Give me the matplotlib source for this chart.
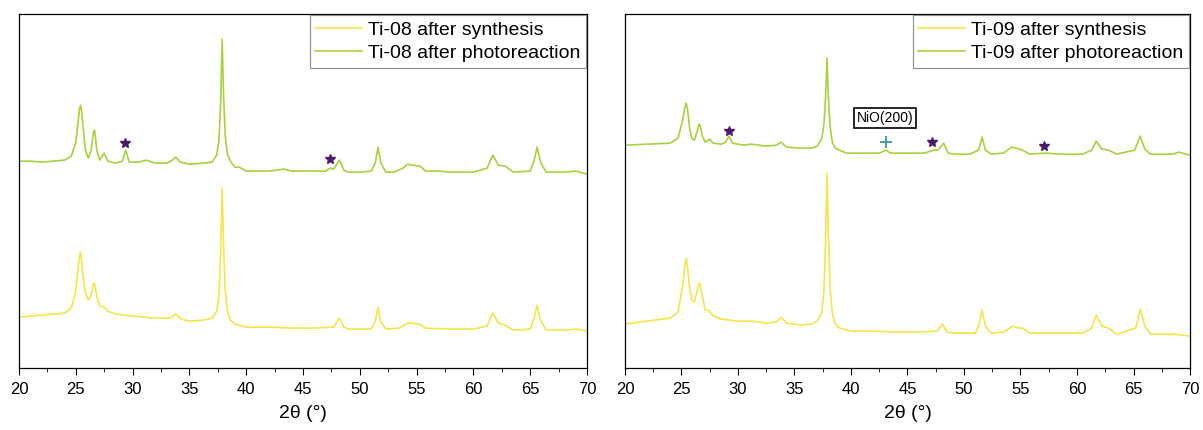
import numpy as np
import matplotlib
matplotlib.use("Agg")
import matplotlib.pyplot as plt
from matplotlib.ticker import MultipleLocator

plt.rcParams.update({
    "font.family": ["Liberation Sans", "DejaVu Sans"],
    "font.size": 11,
    "axes.linewidth": 0.9,
})

# ---- Ti-08 patterns (stacked, arbitrary units)
ti08_syn_x = [20, 22, 24, 24.6, 25.0, 25.2, 25.32, 25.42, 25.52, 25.65, 25.85, 26.1, 26.35,
              26.55, 26.65, 26.85, 27.1, 27.5, 27.8, 28.5, 30, 32, 33.3, 33.8, 34.3, 35,
              36.3, 37.0, 37.4, 37.6, 37.75, 37.88, 38.0, 38.15, 38.35, 38.6, 39, 40,
              42, 44, 46, 47.7, 48.2, 48.6, 49, 51, 51.35, 51.6, 51.85, 52.3, 53.5, 54.2,
              54.6, 55.2, 55.8, 58, 60, 61.2, 61.7, 62.2, 62.8, 63.5, 65, 65.35, 65.6,
              65.9, 66.4, 68, 69, 70]
ti08_syn_y = [51, 53, 55, 60, 78, 100, 112, 116, 106, 90, 75, 68, 73,
              84, 85, 72, 62, 61, 57, 54, 52, 50, 50, 54, 49, 47,
              48, 50, 57, 72, 115, 180, 125, 78, 57, 48, 44, 41,
              41, 40, 40, 41, 50, 41, 39, 39, 47, 61, 46, 39, 40, 45,
              45, 44, 40, 39, 39, 42, 55, 45, 43, 38, 39, 50, 63,
              48, 38, 38, 39, 37]

ti08_pho_x = [20, 21, 22, 23, 24, 24.6, 25.0, 25.2, 25.32, 25.42, 25.52, 25.65, 25.85,
              26.1, 26.35, 26.55, 26.65, 26.85, 27.1, 27.5, 27.8, 28.5, 29.1, 29.4, 29.7,
              30.5, 31.2, 32, 33, 33.5, 33.8, 34.2, 35, 36.2, 37.0, 37.4, 37.6, 37.75,
              37.88, 38.0, 38.15, 38.35, 38.6, 39.0, 39.4, 40, 41, 42, 43.3, 44, 45,
              46, 47, 47.4, 47.7, 48.2, 48.6, 49, 50, 51, 51.35, 51.6, 51.85, 52.3, 53,
              53.8, 54.2, 54.6, 55.3, 55.8, 57, 58, 60, 61.2, 61.7, 62.2, 62.8, 63.5,
              65, 65.35, 65.6, 65.9, 66.4, 68, 69, 70]
ti08_pho_y = [207, 207, 206, 207, 208, 212, 226, 246, 259, 263, 256, 240, 218,
              210, 218, 236, 238, 218, 208, 215, 207, 205, 207, 218, 206,
              206, 208, 205, 205, 208, 211, 206, 204, 205, 206, 213, 228, 265,
              329, 275, 232, 214, 207, 201, 201, 197, 197, 197, 199, 197, 197,
              197, 197, 200, 199, 208, 198, 196, 196, 197, 205, 221, 205, 196, 196,
              200, 204, 203, 202, 197, 197, 196, 196, 200, 213, 203, 202, 196,
              197, 208, 221, 206, 196, 196, 197, 194]

# ---- Ti-09 patterns
ti09_syn_x = [20, 22, 24, 24.7, 25.1, 25.3, 25.42, 25.55, 25.7, 25.9, 26.15, 26.4, 26.55,
              26.65, 26.85, 27.1, 27.4, 27.7, 28.5, 30, 31.2, 32.5, 33.4, 33.8, 34.3,
              35.5, 36.5, 37.0, 37.4, 37.6, 37.75, 37.88, 38.0, 38.15, 38.35, 38.6,
              39.0, 40, 42, 44, 46, 47.6, 48.1, 48.5, 49.2, 51, 51.3, 51.6, 51.9, 52.4,
              53.5, 54.3, 54.8, 55.2, 55.8, 58, 60.5, 61.3, 61.7, 62.2, 62.8, 63.5,
              65.2, 65.6, 66, 66.5, 68.5, 70]
ti09_syn_y = [44, 47, 50, 56, 82, 102, 110, 100, 82, 68, 66, 78, 85,
              84, 72, 58, 58, 53, 49, 47, 47, 45, 46, 51, 45,
              43, 44, 47, 55, 75, 125, 195, 135, 80, 55, 44,
              40, 37, 37, 36, 36, 37, 44, 36, 35, 35, 42, 58, 42, 35,
              36, 42, 40, 40, 35, 35, 35, 40, 53, 42, 40, 34,
              40, 59, 42, 34, 34, 32]

ti09_pho_x = [20, 22, 24, 24.7, 25.1, 25.3, 25.42, 25.55, 25.7, 25.9, 26.15, 26.4, 26.55,
              26.65, 26.85, 27.1, 27.5, 27.8, 28.5, 28.9, 29.2, 29.5, 30.5, 31.2, 32.5,
              33.4, 33.8, 34.3, 35.5, 36.5, 37.0, 37.4, 37.6, 37.75, 37.88, 38.0, 38.15,
              38.35, 38.6, 39.0, 39.6, 41, 42.5, 43.1, 43.5, 45, 46.5, 47.3, 47.7, 48.2,
              48.6, 49.2, 50.5, 51.3, 51.6, 51.9, 52.4, 53.5, 54.2, 54.6, 55.2, 55.8,
              57.2, 58.5, 60.5, 61.3, 61.7, 62.2, 62.8, 63.5, 65.1, 65.6, 66, 66.5,
              68.5, 69, 70]
ti09_pho_y = [223, 224, 225, 230, 248, 261, 265, 258, 242, 230, 228, 237, 244,
              243, 232, 226, 229, 225, 224, 226, 232, 225, 223, 224, 222,
              223, 226, 221, 220, 220, 222, 229, 243, 270, 310, 272, 242,
              226, 220, 218, 215, 215, 215, 218, 215, 215, 215, 218, 218, 225,
              215, 214, 214, 218, 231, 218, 214, 215, 221, 220, 218, 214,
              215, 214, 214, 218, 227, 219, 218, 214, 218, 232, 219, 214,
              214, 216, 213]

# secondary-phase markers
ti08_star_x = [29.3, 47.4]
ti08_star_y = [225, 209]
ti09_star_x = [29.2, 47.2, 57.1]
ti09_star_y = [237, 226, 222]
ti09_nio_x, ti09_nio_y = 43.1, 226

C_SYN = "#f2e64a"
C_PHO = "#a9d13c"
C_STAR = "#4b1a6e"
C_PLUS = "#3a9a9a"

fig = plt.figure(figsize=(12.03, 4.30), dpi=100)
ax1 = fig.add_axes([0.0158, 0.144, 0.4722, 0.823])
ax2 = fig.add_axes([0.5195, 0.144, 0.4697, 0.823])

panels = (
    (ax1, "Ti-08", ti08_syn_x, ti08_syn_y, ti08_pho_x, ti08_pho_y,
     ti08_star_x, ti08_star_y),
    (ax2, "Ti-09", ti09_syn_x, ti09_syn_y, ti09_pho_x, ti09_pho_y,
     ti09_star_x, ti09_star_y),
)
for ax, name, sx, sy, px, py, stx, sty in panels:
    ax.plot(sx, sy, color=C_SYN, lw=1.2, label=f"{name} after synthesis")
    ax.plot(px, py, color=C_PHO, lw=1.2, label=f"{name} after photoreaction")
    ax.plot(stx, sty, ls="none", marker="*", ms=7, color=C_STAR)
    ax.set_xlim(20, 70)
    ax.set_ylim(0, 354)
    ax.xaxis.set_major_locator(MultipleLocator(5))
    ax.xaxis.set_minor_locator(MultipleLocator(2.5))
    ax.tick_params(axis="x", which="major", direction="out", length=5,
                   labelsize=12, pad=5)
    ax.tick_params(axis="x", which="minor", direction="out", length=3)
    ax.set_yticks([])
    ax.set_xlabel("2θ (°)", fontsize=14, labelpad=6)
    leg = ax.legend(loc="upper right", fontsize=14, fancybox=False,
                    edgecolor="0.55", framealpha=1, borderaxespad=0.05,
                    handlelength=2.4, borderpad=0.3, labelspacing=0.3,
                    handletextpad=0.3)
    leg.get_frame().set_linewidth(0.8)

ax2.plot([ti09_nio_x], [ti09_nio_y], ls="none", marker="+", ms=8, mew=1.3,
         color=C_PLUS)
ax2.text(43.0, 250, "NiO(200)", fontsize=10, ha="center", va="center",
         bbox=dict(boxstyle="square,pad=0.2", fc="white", ec="black", lw=1.2))

fig.savefig("out.png", dpi=100)
